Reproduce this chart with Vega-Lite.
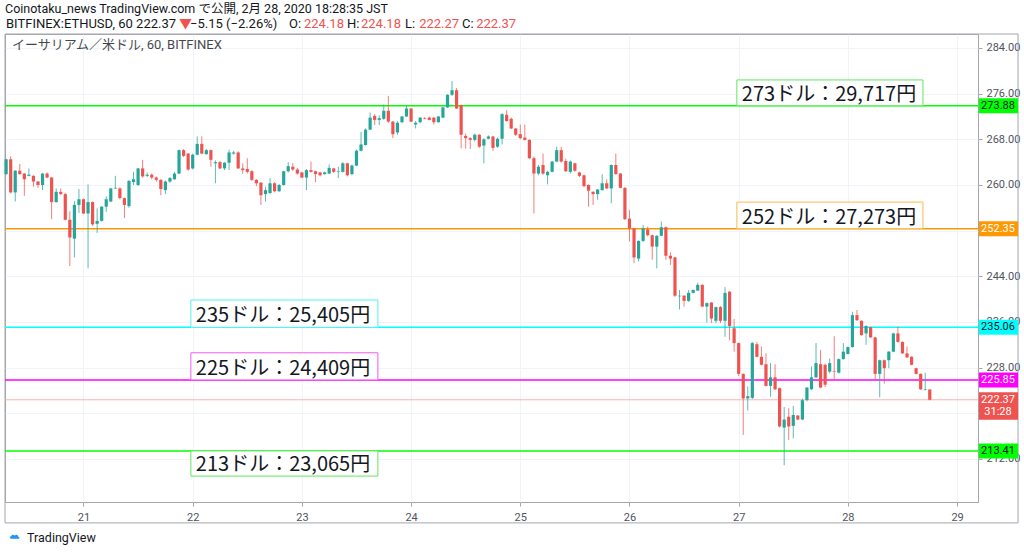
{
  "$schema": "https://vega.github.io/schema/vega-lite/v6.json",
  "description": "ETH/USD 1h candles (Bitfinex), 2020-02-20 to 2020-02-28, with price levels in yen",
  "width": 973,
  "height": 468,
  "autosize": "none",
  "padding": {"left": 5, "top": 34, "right": 46, "bottom": 50},
  "background": "#ffffff",
  "config": {
    "view": {"stroke": "#a3a6af", "strokeWidth": 1},
    "font": "Roboto, Noto Sans CJK JP",
    "scale": {"continuousPadding": 0}
  },
  "datasets": {
    "candles": [
      {"t":7,"o":261.9,"h":264.6,"l":261.8,"c":264.5},
      {"t":8,"o":264.5,"h":265.0,"l":258.5,"c":258.7},
      {"t":9,"o":258.7,"h":262.6,"l":257.1,"c":262.5},
      {"t":10,"o":262.5,"h":263.7,"l":261.8,"c":261.9},
      {"t":11,"o":262.0,"h":262.1,"l":258.1,"c":261.0},
      {"t":12,"o":261.6,"h":262.9,"l":261.5,"c":261.8},
      {"t":13,"o":261.6,"h":261.7,"l":259.7,"c":260.6},
      {"t":14,"o":260.6,"h":260.7,"l":259.5,"c":260.0},
      {"t":15,"o":260.0,"h":262.1,"l":259.1,"c":262.0},
      {"t":16,"o":262.0,"h":262.2,"l":261.2,"c":261.3},
      {"t":17,"o":261.3,"h":261.4,"l":254.0,"c":257.0},
      {"t":18,"o":257.0,"h":259.4,"l":256.9,"c":258.8},
      {"t":19,"o":258.8,"h":259.4,"l":258.3,"c":258.4},
      {"t":20,"o":258.4,"h":258.6,"l":253.8,"c":253.9},
      {"t":21,"o":253.9,"h":255.4,"l":245.8,"c":250.8},
      {"t":22,"o":250.6,"h":257.2,"l":247.3,"c":256.5},
      {"t":23,"o":256.5,"h":259.3,"l":255.1,"c":257.5},
      {"t":24,"o":257.5,"h":257.6,"l":254.9,"c":255.0},
      {"t":25,"o":255.0,"h":260.1,"l":245.4,"c":257.0},
      {"t":26,"o":257.0,"h":257.1,"l":252.8,"c":253.1},
      {"t":27,"o":253.2,"h":255.9,"l":251.6,"c":253.7},
      {"t":28,"o":253.7,"h":256.3,"l":253.6,"c":256.2},
      {"t":29,"o":256.2,"h":258.0,"l":255.3,"c":257.5},
      {"t":30,"o":257.1,"h":259.5,"l":257.0,"c":259.4},
      {"t":31,"o":259.4,"h":261.6,"l":259.3,"c":259.5},
      {"t":32,"o":259.4,"h":259.6,"l":257.5,"c":257.7},
      {"t":33,"o":257.7,"h":257.8,"l":254.2,"c":256.5},
      {"t":34,"o":256.3,"h":260.9,"l":256.0,"c":260.7},
      {"t":35,"o":260.5,"h":262.3,"l":260.0,"c":261.0},
      {"t":36,"o":260.0,"h":263.0,"l":259.8,"c":262.9},
      {"t":37,"o":262.9,"h":264.4,"l":261.3,"c":261.5},
      {"t":38,"o":261.6,"h":262.2,"l":261.4,"c":261.8},
      {"t":39,"o":261.8,"h":262.0,"l":261.0,"c":261.3},
      {"t":40,"o":261.3,"h":261.5,"l":260.6,"c":260.9},
      {"t":41,"o":260.9,"h":261.0,"l":258.2,"c":259.3},
      {"t":42,"o":259.1,"h":260.8,"l":258.4,"c":260.6},
      {"t":43,"o":260.6,"h":261.4,"l":260.4,"c":261.2},
      {"t":44,"o":261.0,"h":262.3,"l":260.9,"c":262.0},
      {"t":45,"o":262.0,"h":266.2,"l":261.9,"c":266.1},
      {"t":46,"o":266.1,"h":266.3,"l":264.9,"c":265.1},
      {"t":47,"o":265.5,"h":265.6,"l":262.5,"c":262.7},
      {"t":48,"o":262.9,"h":265.5,"l":262.7,"c":265.3},
      {"t":49,"o":265.3,"h":268.5,"l":265.2,"c":267.2},
      {"t":50,"o":267.2,"h":268.5,"l":265.4,"c":265.5},
      {"t":51,"o":265.4,"h":266.3,"l":265.3,"c":266.1},
      {"t":52,"o":266.1,"h":266.2,"l":263.2,"c":264.4},
      {"t":53,"o":263.8,"h":264.3,"l":260.3,"c":264.0},
      {"t":54,"o":264.0,"h":264.2,"l":262.8,"c":262.9},
      {"t":55,"o":262.9,"h":264.0,"l":262.6,"c":263.9},
      {"t":56,"o":263.9,"h":266.2,"l":262.6,"c":265.7},
      {"t":57,"o":265.5,"h":266.0,"l":265.3,"c":265.7},
      {"t":58,"o":265.7,"h":265.9,"l":262.8,"c":262.9},
      {"t":59,"o":262.9,"h":263.8,"l":262.0,"c":262.6},
      {"t":60,"o":262.8,"h":264.7,"l":262.0,"c":262.3},
      {"t":61,"o":262.4,"h":262.6,"l":260.7,"c":260.9},
      {"t":62,"o":260.9,"h":261.0,"l":259.8,"c":260.3},
      {"t":63,"o":260.4,"h":260.5,"l":256.5,"c":258.2},
      {"t":64,"o":258.4,"h":259.7,"l":257.1,"c":259.1},
      {"t":65,"o":258.6,"h":261.2,"l":258.4,"c":260.3},
      {"t":66,"o":260.3,"h":260.5,"l":258.7,"c":258.9},
      {"t":67,"o":258.9,"h":260.2,"l":258.8,"c":260.0},
      {"t":68,"o":260.0,"h":262.5,"l":259.9,"c":262.4},
      {"t":69,"o":262.4,"h":264.0,"l":262.2,"c":263.3},
      {"t":70,"o":263.2,"h":263.8,"l":262.5,"c":262.7},
      {"t":71,"o":262.7,"h":263.0,"l":261.8,"c":262.0},
      {"t":72,"o":262.2,"h":262.3,"l":261.2,"c":261.3},
      {"t":73,"o":261.3,"h":262.8,"l":259.1,"c":262.6},
      {"t":74,"o":262.6,"h":264.1,"l":262.2,"c":262.3},
      {"t":75,"o":262.4,"h":262.5,"l":260.5,"c":261.9},
      {"t":76,"o":262.2,"h":262.3,"l":261.5,"c":261.7},
      {"t":77,"o":261.9,"h":262.3,"l":261.8,"c":262.2},
      {"t":78,"o":262.0,"h":263.6,"l":261.9,"c":263.0},
      {"t":79,"o":262.9,"h":263.0,"l":262.1,"c":262.3},
      {"t":80,"o":262.3,"h":263.2,"l":261.2,"c":262.4},
      {"t":81,"o":262.3,"h":264.0,"l":262.2,"c":263.8},
      {"t":82,"o":263.8,"h":263.9,"l":261.5,"c":261.7},
      {"t":83,"o":261.9,"h":263.6,"l":261.7,"c":263.4},
      {"t":84,"o":263.4,"h":266.2,"l":263.3,"c":266.0},
      {"t":85,"o":266.0,"h":269.3,"l":265.9,"c":267.1},
      {"t":86,"o":267.0,"h":269.9,"l":266.9,"c":269.7},
      {"t":87,"o":269.7,"h":272.7,"l":269.6,"c":271.8},
      {"t":88,"o":272.1,"h":272.4,"l":270.5,"c":271.4},
      {"t":89,"o":271.4,"h":272.2,"l":270.5,"c":271.7},
      {"t":90,"o":271.6,"h":274.1,"l":271.4,"c":273.0},
      {"t":91,"o":273.0,"h":275.6,"l":270.9,"c":271.1},
      {"t":92,"o":271.1,"h":271.2,"l":268.2,"c":268.9},
      {"t":93,"o":269.2,"h":271.2,"l":268.8,"c":270.9},
      {"t":94,"o":271.0,"h":272.1,"l":270.8,"c":272.0},
      {"t":95,"o":272.0,"h":273.9,"l":271.9,"c":273.4},
      {"t":96,"o":273.4,"h":273.5,"l":271.0,"c":271.1},
      {"t":97,"o":270.6,"h":271.2,"l":269.9,"c":270.9},
      {"t":98,"o":271.0,"h":271.9,"l":270.8,"c":271.8},
      {"t":99,"o":271.7,"h":271.9,"l":271.5,"c":271.6},
      {"t":100,"o":271.8,"h":272.0,"l":271.3,"c":271.4},
      {"t":101,"o":271.8,"h":271.9,"l":270.6,"c":271.0},
      {"t":102,"o":271.0,"h":272.1,"l":270.9,"c":272.0},
      {"t":103,"o":271.8,"h":273.7,"l":271.7,"c":273.6},
      {"t":104,"o":273.6,"h":275.9,"l":273.5,"c":275.8},
      {"t":105,"o":275.8,"h":278.2,"l":275.6,"c":276.6},
      {"t":106,"o":276.6,"h":277.0,"l":273.3,"c":273.4},
      {"t":107,"o":274.0,"h":274.1,"l":266.4,"c":268.8},
      {"t":108,"o":268.6,"h":269.0,"l":266.4,"c":268.2},
      {"t":109,"o":268.2,"h":268.4,"l":266.3,"c":267.9},
      {"t":110,"o":267.9,"h":269.0,"l":267.6,"c":268.8},
      {"t":111,"o":268.8,"h":268.9,"l":266.5,"c":266.7},
      {"t":112,"o":266.9,"h":268.2,"l":263.8,"c":268.0},
      {"t":113,"o":268.1,"h":268.7,"l":268.0,"c":268.5},
      {"t":114,"o":268.5,"h":268.6,"l":266.0,"c":266.5},
      {"t":115,"o":266.7,"h":268.3,"l":266.5,"c":268.1},
      {"t":116,"o":268.1,"h":272.6,"l":267.1,"c":272.4},
      {"t":117,"o":272.3,"h":273.1,"l":271.1,"c":271.2},
      {"t":118,"o":271.6,"h":271.8,"l":269.8,"c":269.9},
      {"t":119,"o":269.9,"h":270.0,"l":268.6,"c":268.8},
      {"t":120,"o":268.9,"h":270.6,"l":268.0,"c":268.2},
      {"t":121,"o":268.3,"h":270.6,"l":267.8,"c":267.9},
      {"t":122,"o":267.9,"h":268.0,"l":264.5,"c":264.7},
      {"t":123,"o":264.7,"h":265.0,"l":255.0,"c":262.0},
      {"t":124,"o":262.0,"h":263.5,"l":261.7,"c":263.2},
      {"t":125,"o":263.5,"h":265.5,"l":261.8,"c":262.0},
      {"t":126,"o":261.7,"h":262.5,"l":260.1,"c":262.3},
      {"t":127,"o":262.3,"h":264.2,"l":262.2,"c":264.1},
      {"t":128,"o":264.1,"h":266.7,"l":264.0,"c":266.1},
      {"t":129,"o":266.1,"h":266.7,"l":263.9,"c":264.1},
      {"t":130,"o":264.2,"h":264.6,"l":262.3,"c":262.4},
      {"t":131,"o":262.3,"h":264.3,"l":262.0,"c":264.1},
      {"t":132,"o":263.8,"h":263.9,"l":262.3,"c":262.5},
      {"t":133,"o":262.2,"h":262.3,"l":261.4,"c":261.6},
      {"t":134,"o":261.7,"h":261.8,"l":259.6,"c":259.8},
      {"t":135,"o":260.0,"h":260.1,"l":256.2,"c":259.0},
      {"t":136,"o":258.8,"h":258.9,"l":256.5,"c":258.4},
      {"t":137,"o":258.4,"h":259.3,"l":257.4,"c":259.2},
      {"t":138,"o":259.1,"h":261.9,"l":259.0,"c":260.3},
      {"t":139,"o":260.3,"h":261.0,"l":259.3,"c":259.4},
      {"t":140,"o":259.4,"h":263.6,"l":256.8,"c":263.5},
      {"t":141,"o":263.5,"h":265.5,"l":261.8,"c":261.9},
      {"t":142,"o":262.0,"h":262.1,"l":259.4,"c":259.5},
      {"t":143,"o":259.5,"h":259.6,"l":253.9,"c":254.0},
      {"t":144,"o":254.1,"h":255.6,"l":250.1,"c":252.4},
      {"t":145,"o":252.4,"h":252.5,"l":246.3,"c":247.3},
      {"t":146,"o":247.1,"h":250.3,"l":246.6,"c":250.2},
      {"t":147,"o":250.2,"h":253.0,"l":250.0,"c":252.4},
      {"t":148,"o":252.2,"h":252.7,"l":251.0,"c":251.2},
      {"t":149,"o":251.2,"h":251.3,"l":246.9,"c":249.2},
      {"t":150,"o":249.2,"h":251.2,"l":245.4,"c":251.1},
      {"t":151,"o":251.1,"h":253.6,"l":251.0,"c":252.6},
      {"t":152,"o":252.6,"h":252.7,"l":246.9,"c":247.6},
      {"t":153,"o":247.6,"h":248.2,"l":246.0,"c":247.1},
      {"t":154,"o":247.3,"h":247.4,"l":240.4,"c":240.6},
      {"t":155,"o":240.5,"h":241.6,"l":238.2,"c":240.6},
      {"t":156,"o":240.6,"h":240.7,"l":238.7,"c":239.7},
      {"t":157,"o":239.7,"h":241.6,"l":239.5,"c":241.1},
      {"t":158,"o":241.1,"h":241.7,"l":241.0,"c":241.6},
      {"t":159,"o":241.5,"h":242.9,"l":241.4,"c":242.5},
      {"t":160,"o":242.5,"h":242.6,"l":238.6,"c":238.7},
      {"t":161,"o":238.7,"h":239.4,"l":235.9,"c":239.3},
      {"t":162,"o":239.4,"h":239.5,"l":235.8,"c":236.6},
      {"t":163,"o":236.2,"h":238.7,"l":235.8,"c":238.6},
      {"t":164,"o":238.6,"h":238.8,"l":235.8,"c":236.2},
      {"t":165,"o":236.2,"h":242.1,"l":233.4,"c":241.1},
      {"t":166,"o":241.3,"h":241.4,"l":232.8,"c":235.3},
      {"t":167,"o":234.9,"h":236.5,"l":230.8,"c":232.3},
      {"t":168,"o":232.3,"h":232.4,"l":226.5,"c":226.9},
      {"t":169,"o":226.9,"h":227.0,"l":216.2,"c":222.6},
      {"t":170,"o":222.6,"h":224.7,"l":220.5,"c":223.0},
      {"t":171,"o":222.7,"h":232.5,"l":222.5,"c":232.3},
      {"t":172,"o":232.1,"h":232.5,"l":229.8,"c":229.9},
      {"t":173,"o":229.9,"h":231.7,"l":228.4,"c":228.5},
      {"t":174,"o":228.6,"h":230.5,"l":224.7,"c":224.8},
      {"t":175,"o":224.8,"h":228.8,"l":222.9,"c":226.3},
      {"t":176,"o":226.3,"h":228.6,"l":224.1,"c":224.2},
      {"t":177,"o":224.4,"h":224.5,"l":217.5,"c":217.7},
      {"t":178,"o":217.5,"h":221.1,"l":210.9,"c":218.9},
      {"t":179,"o":219.4,"h":220.9,"l":215.3,"c":217.7},
      {"t":180,"o":217.8,"h":221.3,"l":215.6,"c":219.7},
      {"t":181,"o":219.6,"h":219.7,"l":218.8,"c":218.9},
      {"t":182,"o":218.9,"h":222.6,"l":218.8,"c":222.3},
      {"t":183,"o":222.3,"h":224.6,"l":222.1,"c":224.5},
      {"t":184,"o":224.2,"h":228.2,"l":224.1,"c":226.3},
      {"t":185,"o":226.3,"h":232.3,"l":226.2,"c":228.8},
      {"t":186,"o":228.6,"h":231.1,"l":224.4,"c":224.5},
      {"t":187,"o":228.5,"h":228.7,"l":224.6,"c":225.0},
      {"t":188,"o":227.3,"h":229.6,"l":227.0,"c":228.8},
      {"t":189,"o":227.4,"h":233.5,"l":225.8,"c":227.3},
      {"t":190,"o":227.1,"h":229.6,"l":227.0,"c":229.5},
      {"t":191,"o":229.5,"h":232.3,"l":229.4,"c":230.8},
      {"t":192,"o":230.4,"h":231.7,"l":230.3,"c":231.6},
      {"t":193,"o":231.6,"h":237.8,"l":231.5,"c":237.2},
      {"t":194,"o":237.2,"h":238.1,"l":236.2,"c":236.3},
      {"t":195,"o":236.2,"h":236.3,"l":233.6,"c":233.7},
      {"t":196,"o":234.0,"h":235.4,"l":232.0,"c":235.3},
      {"t":197,"o":235.1,"h":235.2,"l":233.2,"c":233.3},
      {"t":198,"o":233.3,"h":233.4,"l":225.8,"c":226.9},
      {"t":199,"o":226.9,"h":229.4,"l":222.8,"c":229.3},
      {"t":200,"o":229.3,"h":229.4,"l":225.2,"c":227.9},
      {"t":201,"o":229.3,"h":230.9,"l":227.9,"c":230.8},
      {"t":202,"o":230.8,"h":234.1,"l":230.7,"c":234.0},
      {"t":203,"o":234.0,"h":235.2,"l":232.4,"c":232.5},
      {"t":204,"o":232.5,"h":232.6,"l":230.4,"c":230.5},
      {"t":205,"o":230.5,"h":231.7,"l":229.7,"c":229.8},
      {"t":206,"o":229.9,"h":230.0,"l":228.4,"c":228.5},
      {"t":207,"o":227.9,"h":228.0,"l":226.8,"c":226.9},
      {"t":208,"o":226.9,"h":227.0,"l":224.1,"c":224.2},
      {"t":209,"o":224.1,"h":227.1,"l":224.0,"c":224.2},
      {"t":210,"o":224.18,"h":224.18,"l":222.27,"c":222.37}
    ],
    "levels": [
      {"name": "273", "p": 273.88},
      {"name": "252", "p": 252.35},
      {"name": "235", "p": 235.06},
      {"name": "225", "p": 225.85},
      {"name": "213", "p": 213.41}
    ],
    "boxes": [
      {"name": "273", "text": "273ドル：29,717円", "x0": 167.6, "x1": 208.5, "top": 278.4, "bot": 273.88},
      {"name": "252", "text": "252ドル：27,273円", "x0": 167.6, "x1": 208.5, "top": 257.0, "bot": 252.35},
      {"name": "235", "text": "235ドル：25,405円", "x0": 47.6, "x1": 88.7, "top": 239.85, "bot": 235.06},
      {"name": "225", "text": "225ドル：24,409円", "x0": 47.6, "x1": 88.7, "top": 230.6, "bot": 225.85},
      {"name": "213", "text": "213ドル：23,065円", "x0": 47.6, "x1": 88.7, "top": 213.41, "bot": 209.0}
    ],
    "tags": [
      {"name": "273", "p": 273.88, "label": "273.88"},
      {"name": "252", "p": 252.35, "label": "252.35"},
      {"name": "235", "p": 235.06, "label": "235.06"},
      {"name": "225", "p": 225.85, "label": "225.85"},
      {"name": "now", "p": 222.37, "label": "222.37"},
      {"name": "timer", "p": 220.2, "label": "31:28"},
      {"name": "213", "p": 213.41, "label": "213.41"}
    ],
    "header": [
      {"t": 6.75, "p": 290.8, "text": "Coinotaku_news TradingView.com で公開, 2月 28, 2020 18:28:35 JST", "kind": "k", "size": "s"},
      {"t": 6.97, "p": 288.2, "text": "BITFINEX:ETHUSD, 60 222.37", "kind": "k"},
      {"t": 44.99, "p": 288.2, "text": "▼", "kind": "r"},
      {"t": 47.41, "p": 288.2, "text": "−5.15 (−2.26%)", "kind": "k"},
      {"t": 69.16, "p": 288.2, "text": "O:", "kind": "k"},
      {"t": 72.46, "p": 288.2, "text": "224.18", "kind": "r"},
      {"t": 81.91, "p": 288.2, "text": "H:", "kind": "k"},
      {"t": 84.99, "p": 288.2, "text": "224.18", "kind": "r"},
      {"t": 94.66, "p": 288.2, "text": "L:", "kind": "k"},
      {"t": 97.78, "p": 288.2, "text": "222.27", "kind": "r"},
      {"t": 107.2, "p": 288.2, "text": "C:", "kind": "k"},
      {"t": 110.3, "p": 288.2, "text": "222.37", "kind": "r"},
      {"t": 8.3, "p": 284.5, "text": "イーサリアム／米ドル, 60, BITFINEX", "kind": "g"},
      {"t": 11.6, "p": 198.2, "text": "TradingView", "kind": "k", "size": "s"}
    ]
  },
  "layer": [
    {
      "data": {"values": [{}]},
      "mark": {"type": "rect", "fill": null, "stroke": "#a3a6af", "strokeWidth": 1},
      "encoding": {
        "x": {"datum": 6.75, "type": "quantitative", "scale": {"domain": [6.75, 220.6], "nice": false, "zero": false, "padding": 0}},
        "x2": {"datum": 229.4},
        "y": {"datum": 286.45, "type": "quantitative", "scale": {"domain": [204.46, 286.45], "nice": false, "zero": false, "padding": 0}},
        "y2": {"datum": 200.8}
      }
    },
    {
      "data": {"values": [{}]},
      "mark": {"type": "rule", "stroke": "#f6b3b2", "strokeWidth": 1},
      "encoding": {
        "y": {"datum": 222.37, "type": "quantitative"}
      }
    },
    {
      "data": {"name": "levels"},
      "mark": {"type": "rule", "strokeWidth": 1.5},
      "encoding": {
        "y": {"field": "p", "type": "quantitative"},
        "color": {"field": "name", "type": "nominal", "legend": null,
          "scale": {"domain": ["273", "252", "235", "225", "213", "now", "timer"],
                    "range": ["#00ff00", "#ff9800", "#00ffff", "#ff00ff", "#00ff00", "#ef5350", "#ef5350"]}}
      }
    },
    {
      "data": {"name": "candles"},
      "mark": {"type": "rule", "strokeWidth": 1, "opacity": 0.75},
      "encoding": {
        "x": {"field": "t", "type": "quantitative"},
        "y": {"field": "l", "type": "quantitative"},
        "y2": {"field": "h"},
        "stroke": {"condition": {"test": "datum.c >= datum.o", "value": "#26a69a"}, "value": "#ef5350"}
      }
    },
    {
      "data": {"name": "candles"},
      "mark": {"type": "bar", "width": 3.2},
      "encoding": {
        "x": {"field": "t", "type": "quantitative", "scale": {"domain": [6.75, 220.6], "nice": false, "zero": false, "padding": 0},
          "axis": {"orient": "bottom", "values": [24, 48, 72, 96, 120, 144, 168, 192, 216],
                   "labelExpr": "format(datum.value / 24 + 20, 'd')", "title": null, "domain": false,
                   "grid": true, "gridColor": "#f0f3fa", "tickColor": "#a3a6af", "tickSize": 4,
                   "labelColor": "#50535e", "labelFontSize": 11, "labelFont": "Roboto", "labelPadding": 5}},
        "y": {"field": "o", "type": "quantitative", "scale": {"domain": [204.46, 286.45], "nice": false, "zero": false, "padding": 0},
          "axis": {"orient": "right", "values": [212, 220, 228, 236, 244, 252, 260, 268, 276, 284],
                   "labelExpr": "datum.value == 252 || datum.value == 220 ? '' : format(datum.value, '.2f')",
                   "title": null, "domain": false,
                   "grid": true, "gridColor": "#f0f3fa", "tickColor": "#a3a6af", "tickSize": 4,
                   "labelColor": "#50535e", "labelFontSize": 11, "labelFont": "Roboto", "labelPadding": 4}},
        "y2": {"field": "c"},
        "fill": {"condition": {"test": "datum.c >= datum.o", "value": "#26a69a"}, "value": "#ef5350"}
      }
    },
    {
      "data": {"name": "boxes"},
      "mark": {"type": "rect", "fill": "#ffffff", "strokeWidth": 1},
      "encoding": {
        "x": {"field": "x0", "type": "quantitative"},
        "x2": {"field": "x1"},
        "y": {"field": "top", "type": "quantitative"},
        "y2": {"field": "bot"},
        "stroke": {"field": "name", "type": "nominal", "legend": null,
          "scale": {"domain": ["273", "252", "235", "225", "213"],
                    "range": ["#5fe85f", "#ffb74d", "#4ff2f2", "#f05af0", "#5fe85f"]}}
      }
    },
    {
      "data": {"name": "boxes"},
      "mark": {"type": "text", "align": "left", "baseline": "bottom", "dx": 5, "dy": -1, "fontSize": 20, "font": "Noto Sans CJK JP", "fill": "#131722"},
      "encoding": {
        "x": {"field": "x0", "type": "quantitative"},
        "y": {"field": "bot", "type": "quantitative"},
        "text": {"field": "text"}
      }
    },
    {
      "data": {"name": "tags"},
      "mark": {"type": "rule", "strokeWidth": 15, "strokeCap": "butt"},
      "encoding": {
        "x": {"datum": 220.8, "type": "quantitative"},
        "x2": {"datum": 229.4},
        "y": {"field": "p", "type": "quantitative"},
        "color": {"field": "name", "type": "nominal", "legend": null,
          "scale": {"domain": ["273", "252", "235", "225", "213", "now", "timer"],
                    "range": ["#00ff00", "#ff9800", "#00ffff", "#ff00ff", "#00ff00", "#ef5350", "#ef5350"]}}
      }
    },
    {
      "data": {"name": "tags"},
      "mark": {"type": "text", "align": "center", "baseline": "middle", "fontSize": 11, "font": "Roboto"},
      "encoding": {
        "x": {"datum": 225.0, "type": "quantitative"},
        "y": {"field": "p", "type": "quantitative"},
        "text": {"field": "label"},
        "fill": {"condition": {"test": "indexof(['273', '235', '213'], datum.name) >= 0", "value": "#131722"}, "value": "#ffffff"}
      }
    },
    {
      "data": {"values": [{}]},
      "mark": {"type": "point", "shape": "M-1.1,0.45 C-1.6,0.45 -1.6,-0.25 -1.05,-0.25 C-1,-0.75 -0.35,-0.85 -0.05,-0.45 C0.3,-0.95 1.05,-0.75 1,-0.15 C1.55,-0.15 1.55,0.45 1.05,0.45 Z", "filled": true, "fill": "#2196f3", "opacity": 1, "size": 45},
      "encoding": {
        "x": {"datum": 8.9, "type": "quantitative"},
        "y": {"datum": 198.3, "type": "quantitative"}
      }
    },
    {
      "data": {"name": "header"},
      "mark": {"type": "text", "align": "left", "baseline": "middle", "font": "Roboto, Noto Sans CJK JP"},
      "encoding": {
        "x": {"field": "t", "type": "quantitative"},
        "y": {"field": "p", "type": "quantitative"},
        "text": {"field": "text"},
        "size": {"condition": {"test": "datum.size == 's'", "value": 12.5}, "value": 13},
        "fill": {"condition": {"test": "datum.kind == 'r'", "value": "#ef5350"}, "value": "#131722"},
        "opacity": {"condition": {"test": "datum.kind == 'g'", "value": 0.8}, "value": 1}
      }
    }
  ]
}
